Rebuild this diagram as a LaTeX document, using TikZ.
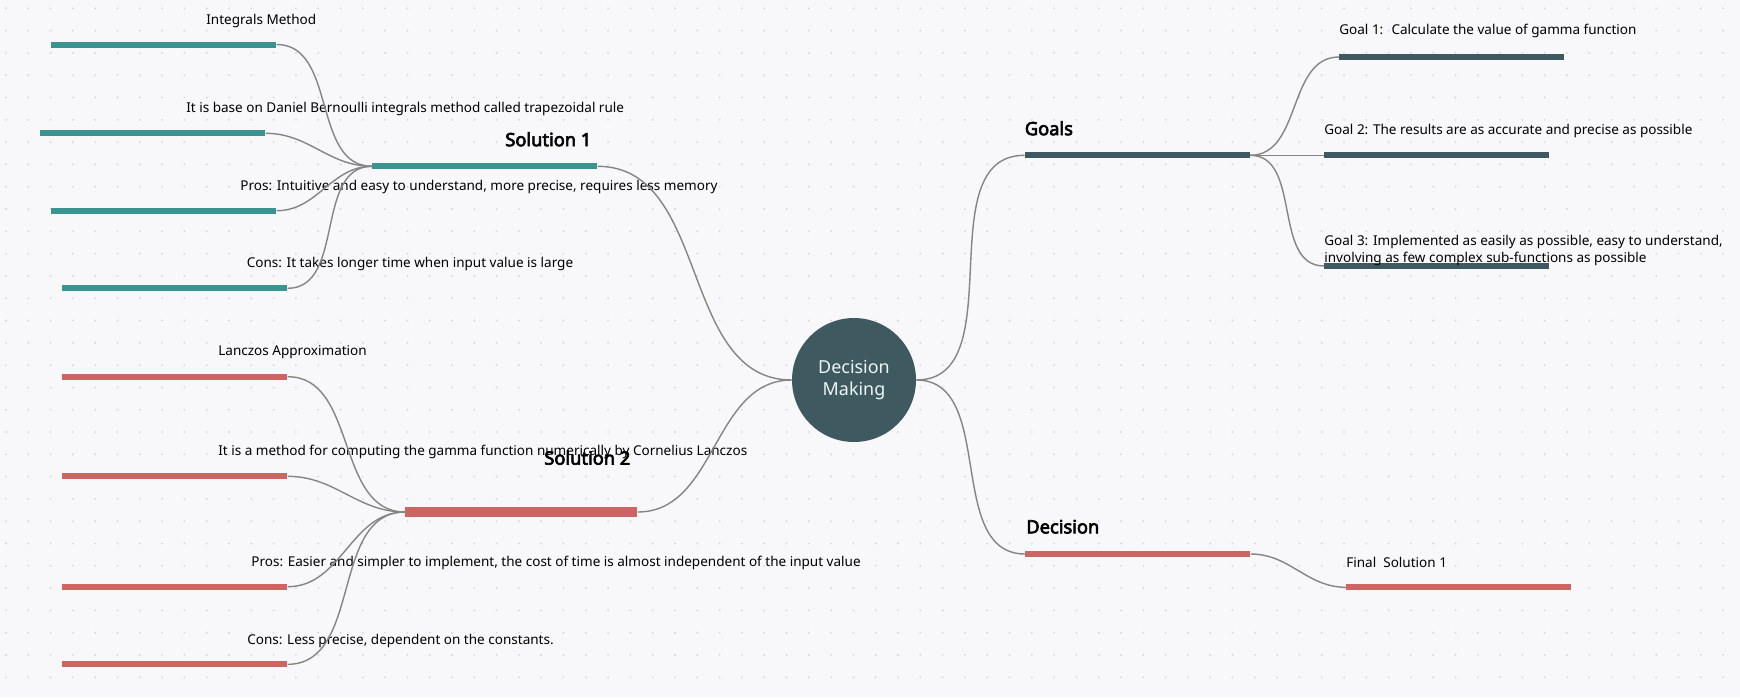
\documentclass[tikz,border=0pt]{standalone}
\usepackage{fontspec}
\setmainfont{Noto Sans}[AutoFakeBold=3.5]
\usetikzlibrary{positioning}
\definecolor{bgcol}{HTML}{F8F8FA}
\definecolor{dotcol}{HTML}{D6D8DE}
\definecolor{tealbar}{HTML}{3A948F}
\definecolor{redbar}{HTML}{CC6662}
\definecolor{slatebar}{HTML}{3E5A60}
\definecolor{linkcol}{HTML}{858585}
\definecolor{ringtext}{HTML}{EEF4F4}

\begin{document}
\begin{tikzpicture}[x=0.02cm, y=-0.02cm,
    bar/.style={rectangle, anchor=west, inner sep=0pt, minimum width=4.5cm, minimum height=0.12cm},
    lbl/.style={anchor=west, inner sep=0pt, font=\fontsize{7.7}{10}\selectfont},
    head/.style={anchor=west, inner sep=0pt, font=\fontsize{10.4}{12}\selectfont\bfseries},
    link/.style={draw=linkcol, line width=0.8pt, out=180, in=0},
    linkr/.style={draw=linkcol, line width=0.8pt, out=0, in=180}]

    % background with dot grid
    \fill[bgcol] (0,0) rectangle (1740,697);
    \useasboundingbox (0,0) rectangle (1740,697);
    \foreach \i in {0,...,77} {
      \foreach \j in {0,...,31} {
        \fill[dotcol] (6+22.3*\i, 8.3+22.3*\j) circle (0.6pt);
      }
    }

    % centre
    \node[circle, fill=slatebar, minimum size=2.48cm, inner sep=0pt, text=ringtext, align=center,
      font=\fontsize{10.2}{12.3}\selectfont] (dm) at (854,380) {Decision\\Making};

    % solution 1
    \node[bar, fill=tealbar] (s1) at (372,166.3) {};
    \node[bar, fill=tealbar] (im) at (51,44.5) {};
    \node[bar, fill=tealbar] (db) at (40,133.3) {};
    \node[bar, fill=tealbar] (p1) at (51,210.7) {};
    \node[bar, fill=tealbar] (c1) at (62,288.3) {};
    \node[head] (s1t) at (505,139.3) {Solution 1};
    \node[lbl] (imt) at (206,20.7) {Integrals Method};
    \node[lbl] (dbt) at (186,109) {It is base on Daniel Bernoulli integrals method called trapezoidal rule};
    \node[lbl] (p1t) at (240,186.7) {Pros: Intuitive and easy to understand, more precise, requires less memory};
    \node[lbl] (c1t) at (246.5,264) {Cons: It takes longer time when input value is large};

    % solution 2
    \node[bar, fill=redbar, minimum width=4.64cm, minimum height=0.186cm] (s2) at (405,512) {};
    \node[bar, fill=redbar] (la) at (62,376.7) {};
    \node[bar, fill=redbar] (mc) at (62,476.3) {};
    \node[bar, fill=redbar] (p2) at (62,586.7) {};
    \node[bar, fill=redbar] (c2) at (62,664.3) {};
    \node[lbl] (lat) at (218,352.3) {Lanczos Approximation};
    \node[lbl] (mct) at (218,452.3) {It is a method for computing the gamma function numerically by Cornelius Lanczos};
    \node[head] (s2t) at (544,457.7) {Solution 2};
    \node[lbl] (p2t) at (251,562.7) {Pros: Easier and simpler to implement, the cost of time is almost independent of the input value};
    \node[lbl] (c2t) at (247,640.7) {Cons: Less precise, dependent on the constants.};

    % goals
    \node[bar, fill=slatebar] (gl) at (1024.5,155.3) {};
    \node[bar, fill=slatebar] (g1) at (1339,57) {};
    \node[bar, fill=slatebar] (g2) at (1324,155.3) {};
    \node[bar, fill=slatebar] (g3) at (1324,266) {};
    \node[head] (glt) at (1024.5,128.3) {Goals};
    \node[lbl] (g1t) at (1339,31.3) {Goal 1:~ Calculate the value of gamma function};
    \node[lbl] (g2t) at (1324,131) {Goal 2: The results are as accurate and precise as possible};
    \node[lbl, align=left] (g3t) at (1324,250.5) {Goal 3: Implemented as easily as possible, easy to understand,\\involving as few complex sub-functions as possible};

    % decision
    \node[bar, fill=redbar] (dc) at (1025,554) {};
    \node[bar, fill=redbar] (fs) at (1346,587.3) {};
    \node[head] (dct) at (1026,526.7) {Decision};
    \node[lbl] (fst) at (1346,562.7) {Final~ Solution 1};

    % links
    \draw[link] (dm.west) to (s1.east);
    \draw[link] (dm.west) to (s2.east);
    \draw[linkr] (dm.east) to (gl.west);
    \draw[linkr] (dm.east) to (dc.west);
    \foreach \k in {im,db,p1,c1} \draw[link] (s1.west) to (\k.east);
    \foreach \k in {la,mc,p2,c2} \draw[link] (s2.west) to (\k.east);
    \foreach \k in {g1,g2,g3} \draw[linkr] (gl.east) to (\k.west);
    \draw[linkr] (dc.east) to (fs.west);
\end{tikzpicture}
\end{document}
